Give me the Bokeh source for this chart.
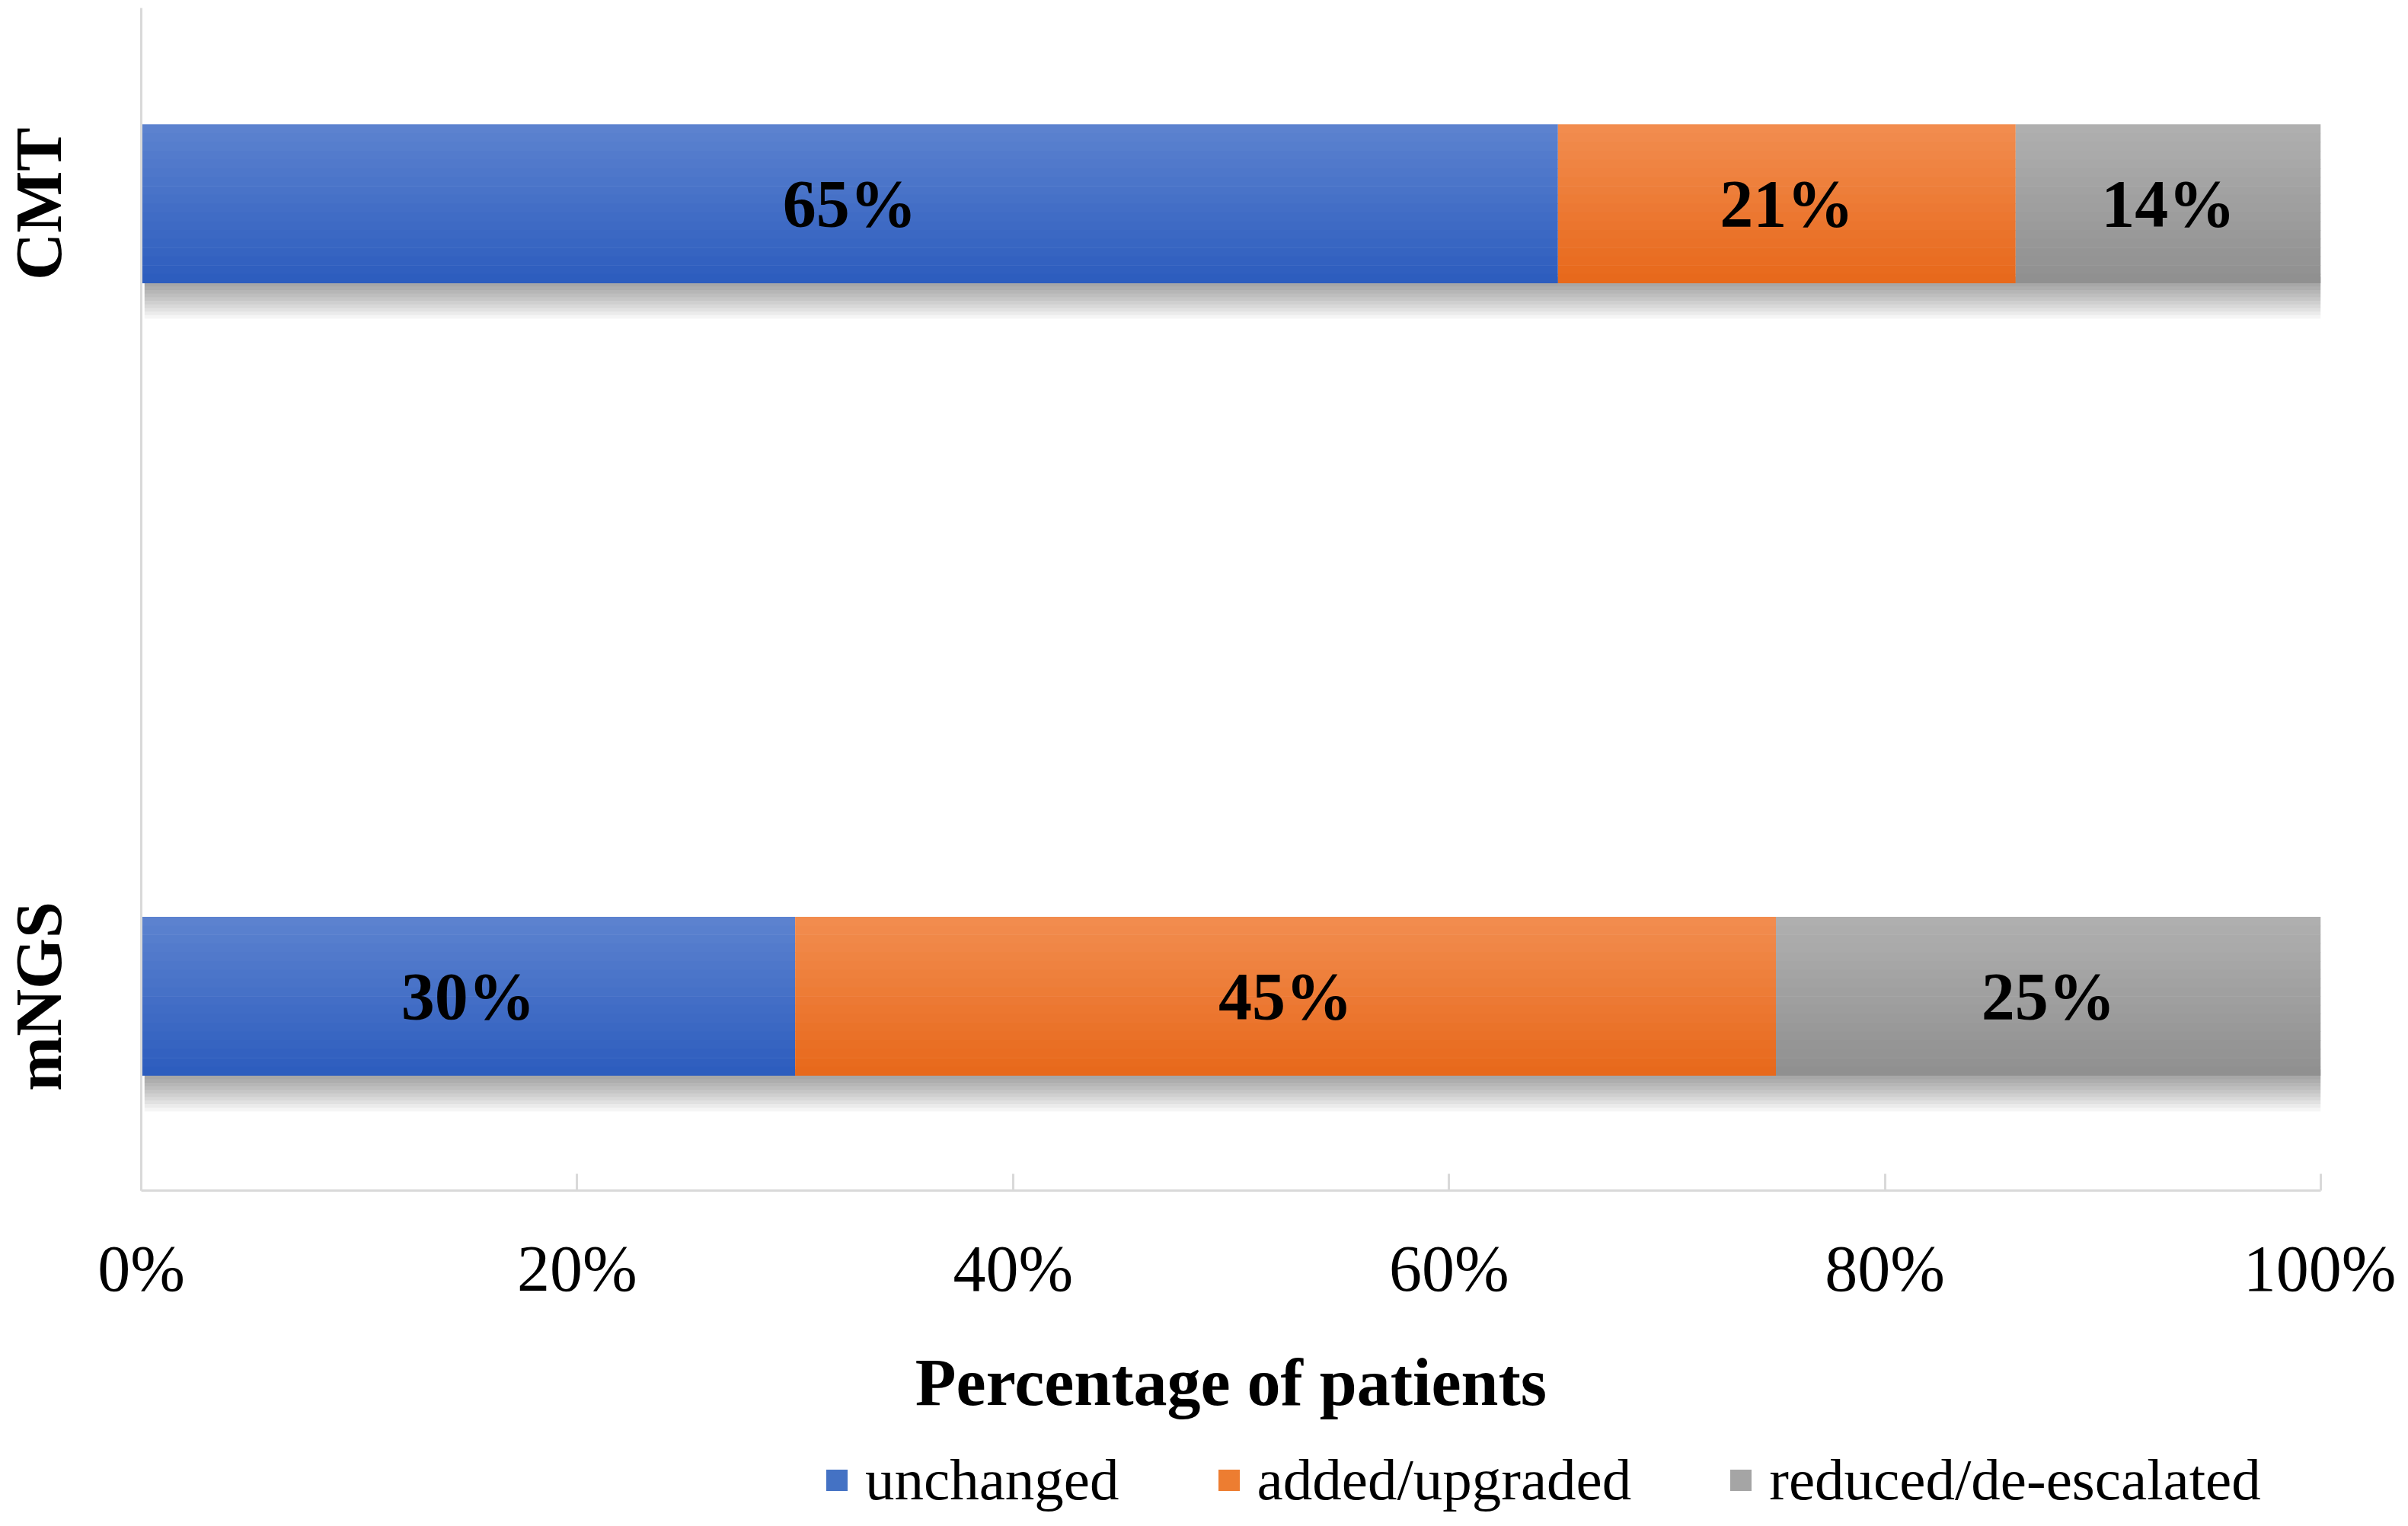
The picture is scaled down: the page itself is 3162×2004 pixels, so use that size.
import math
from bokeh.plotting import figure
from bokeh.layouts import column
from bokeh.models import Range1d, FixedTicker, Legend, LegendItem
from bokeh.core.properties import value
from bokeh.embed import file_html
from bokeh.resources import INLINE

# ---- data ----
groups = ["mNGS", "CMT"]            # y positions 0, 1
series = ["unchanged", "added/upgraded", "reduced/de-escalated"]
unchanged = [30, 65]
added = [45, 21]
reduced = [25, 14]
values = [unchanged, added, reduced]
x_ticks = [0, 20, 40, 60, 80, 100]
x_tick_labels = ["0%", "20%", "40%", "60%", "80%", "100%"]

# ---- styles ----
top_colors = ["#5d83d0", "#f28d50", "#b0b0b0"]
bot_colors = ["#2c5cbd", "#e7681a", "#8f8f8f"]
legend_colors = ["#4472c4", "#ed7d31", "#a5a5a5"]
FONT = "Liberation Serif"
BAR_H = 0.2
N_BANDS = 18
W = 3146
H_MAIN = 1890
H_LEG = 98

def mix(c1, c2, t):
    a = [int(c1[i:i + 2], 16) for i in (1, 3, 5)]
    b = [int(c2[i:i + 2], 16) for i in (1, 3, 5)]
    return "#%02x%02x%02x" % tuple(round(a[j] + (b[j] - a[j]) * t) for j in range(3))

p = figure(width=W, height=H_MAIN, output_backend="svg", toolbar_location=None,
           x_range=Range1d(0, 100), y_range=Range1d(-0.245, 1.247),
           min_border_left=181, min_border_right=99, min_border_top=10,
           min_border_bottom=H_MAIN - 1563)
p.outline_line_color = None
p.xgrid.visible = False
p.ygrid.visible = False
p.background_fill_color = "white"

ys = list(range(len(groups)))

# cumulative positions
lefts, rights = [], []
acc = [0] * len(groups)
for vals in values:
    l = acc[:]
    r = [acc[i] + vals[i] for i in range(len(groups))]
    lefts.append(l)
    rights.append(r)
    acc = r

# soft shadow under bars
n_sh = 10
sh_depth = 0.045
for k in range(1, n_sh + 1):
    d = sh_depth * k / n_sh
    p.hbar(y=[y - BAR_H / 2 - d / 2 + 0.004 for y in ys], height=d + 0.008,
           left=[0.15 for _ in ys], right=[acc[i] + 0.35 for i in range(len(ys))],
           fill_color="black", fill_alpha=0.04, line_color=None)

# gradient bars
band = BAR_H / N_BANDS
for s in range(len(series)):
    for k in range(N_BANDS):
        t = (k + 0.5) / N_BANDS
        col = mix(top_colors[s], bot_colors[s], t)
        yc = [y + BAR_H / 2 - band * (k + 0.5) for y in ys]
        p.hbar(y=yc, height=band * 1.05, left=lefts[s], right=rights[s],
               fill_color=col, line_color=None)

# bar labels
lab_x, lab_y, lab_t = [], [], []
for s in range(len(series)):
    for i in range(len(groups)):
        lab_x.append((lefts[s][i] + rights[s][i]) / 2)
        lab_y.append(ys[i])
        lab_t.append("%d%%" % values[s][i])
p.text(x=lab_x, y=lab_y, text=lab_t, text_align="center", text_baseline="middle",
       text_font=value(FONT), text_font_style="bold", text_font_size="88px",
       text_color="black")

# x axis
xa = p.xaxis[0]
xa.ticker = FixedTicker(ticks=x_ticks)
xa.major_label_overrides = {t: l for t, l in zip(x_ticks, x_tick_labels)}
xa.minor_tick_line_color = None
xa.major_tick_in = 22
xa.major_tick_out = 0
xa.major_tick_line_color = "#d9d9d9"
xa.major_tick_line_width = 3
xa.axis_line_color = "#d9d9d9"
xa.axis_line_width = 3
xa.major_label_text_font = FONT
xa.major_label_text_font_size = "86px"
xa.major_label_text_color = "black"
xa.major_label_standoff = 54
xa.axis_label = "Percentage of patients"
xa.axis_label_text_font = FONT
xa.axis_label_text_font_style = "bold"
xa.axis_label_text_font_size = "88px"
xa.axis_label_text_color = "black"
xa.axis_label_standoff = 50

# y axis
ya = p.yaxis[0]
ya.ticker = FixedTicker(ticks=ys)
ya.major_label_overrides = {y: g for y, g in zip(ys, groups)}
ya.minor_tick_line_color = None
ya.major_tick_line_color = None
ya.major_tick_in = 0
ya.major_tick_out = 0
ya.axis_line_color = "#d9d9d9"
ya.axis_line_width = 3
ya.major_label_orientation = "vertical"
ya.major_label_text_font = FONT
ya.major_label_text_font_style = "bold"
ya.major_label_text_font_size = "86px"
ya.major_label_text_color = "black"
ya.major_label_standoff = 86

# legend strip (separate figure so that the legend is not clipped)
pl = figure(width=W, height=H_LEG, output_backend="svg", toolbar_location=None,
            x_range=Range1d(0, 1), y_range=Range1d(0, 1),
            x_axis_type=None, y_axis_type=None, min_border=0)
pl.outline_line_color = None
pl.xgrid.visible = False
pl.ygrid.visible = False
# swatch renderers: one off-range bar each, only used for the legend glyphs
leg_r = [pl.hbar(y=[-5], height=0.1, left=[0], right=[1], fill_color=legend_colors[s],
                 line_color=None) for s in range(len(series))]
legend = Legend(items=[LegendItem(label=series[s], renderers=[leg_r[s]])
                       for s in range(len(series))],
                location=(896, 0), orientation="horizontal",
                label_text_font=FONT, label_text_font_size="77px",
                label_text_color="black", glyph_width=35, glyph_height=35,
                label_standoff=20, spacing=126, padding=0, margin=0,
                border_line_color=None, background_fill_alpha=0)
pl.add_layout(legend, "center")

layout = column(p, pl, spacing=0)
open("out.html", "w").write(file_html(layout, INLINE))
